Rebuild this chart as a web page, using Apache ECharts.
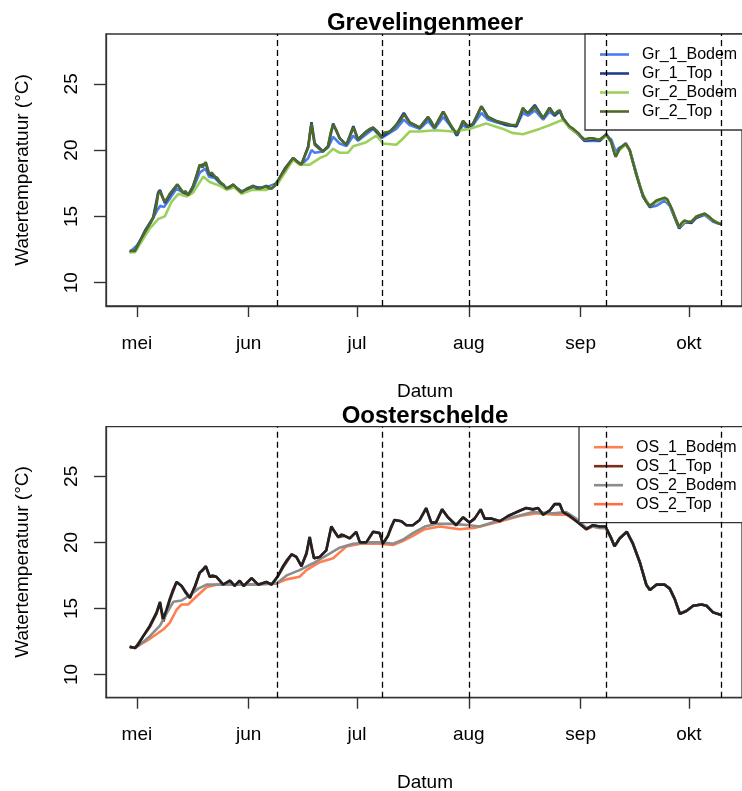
<!DOCTYPE html>
<html><head><meta charset="utf-8">
<script src="https://cdn.jsdelivr.net/npm/echarts@6/dist/echarts.min.js"></script>
<style>html,body{margin:0;padding:0;background:#fff}#c{width:742px;height:791px}</style>
</head><body><div id="c"></div>
<script>
// Day offsets are relative to 1 May; values in °C
const monthTickDays = [0, 31, 61, 92, 123, 153];
const monthLabels = ['mei', 'jun', 'jul', 'aug', 'sep', 'okt'];
const yTicks = [10, 15, 20, 25];
const eventDays = [39, 68, 92, 130, 162];
const grNames = ['Gr_1_Bodem', 'Gr_1_Top', 'Gr_2_Bodem', 'Gr_2_Top'];
const osNames = ['OS_1_Bodem', 'OS_1_Top', 'OS_2_Bodem', 'OS_2_Top'];

const gr1Bodem = [[-2,12.3],[0,12.8],[2,13.6],[4,14.6],[5.5,15.4],[6.5,15.8],[7.5,15.7],[9,16.3],[11,17.1],[12.8,16.8],[14.2,16.6],[15.6,17.1],[17.4,18.3],[19,18.6],[20,18.0],[21.6,17.9],[23,17.5],[24.8,17.1],[26.7,17.3],[29,16.9],[32.2,17.2],[35.9,17.2],[38.9,17.5],[41,18.4],[43.3,19.3],[45.6,18.9],[47.5,19.4],[48.4,20.0],[49.3,19.8],[51.6,19.9],[53,20.2],[54.4,21.0],[56.2,20.5],[58.1,20.3],[60,21.1],[61.3,20.7],[63.6,21.2],[65.5,21.6],[67.8,20.9],[70.1,21.3],[71.9,21.6],[74,22.3],[75.6,21.9],[78.4,21.6],[80.7,22.2],[82.5,21.6],[84.9,22.5],[86.7,21.9],[88.7,21.1],[90.4,21.9],[91.8,21.6],[93.2,21.9],[95.5,22.8],[97.3,22.3],[99.6,22.1],[102.4,21.9],[105.2,21.8],[107,22.8],[108.4,22.6],[110.3,23.0],[112.6,22.3],[114.4,22.9],[115.8,22.6],[117.2,22.9],[118.1,22.4],[119.9,21.7],[122.3,21.2],[124.1,20.7],[126.4,20.7],[128.3,20.7],[130.1,21.1],[131.5,20.8],[132.7,19.9],[133.8,20.2],[135.5,20.4],[136.6,20.0],[138.5,18.2],[140.3,16.5],[142.2,15.7],[144,15.8],[146.3,16.2],[147.7,15.8],[149.1,14.9],[150.3,14.1],[151.8,14.5],[153.7,14.6],[155.1,14.9],[157.4,15.1],[159.7,14.6],[162,14.4]];

const gr1Top = [[-2,12.3],[-0.5,12.4],[2.2,13.9],[4.5,14.9],[5.9,16.8],[6.4,17.0],[7.75,16.0],[9.1,16.6],[11.2,17.4],[12.8,16.8],[14.2,16.6],[15.6,17.3],[17.4,18.8],[19.1,19.0],[20,18.2],[21.6,18.0],[23,17.6],[24.8,17.1],[26.7,17.4],[29,16.8],[32.2,17.3],[34.1,17.1],[35.9,17.3],[37.3,17.1],[38.9,17.6],[41,18.6],[43.3,19.4],[45.6,18.9],[47.5,20.3],[48.4,22.1],[49.3,20.5],[51.6,19.9],[53,20.3],[54.4,22.0],[56.2,20.9],[58.1,20.4],[60,21.8],[61.3,20.8],[63.6,21.4],[65.5,21.7],[67.8,21.0],[70.1,21.4],[71.9,21.9],[74,22.8],[75.6,22.1],[78.4,21.7],[80.7,22.5],[82.5,21.7],[84.9,22.9],[86.7,22.0],[88.7,21.1],[90.4,22.2],[91.8,21.7],[93.2,22.0],[95.5,23.3],[97.3,22.5],[99.6,22.2],[102.4,21.9],[105.2,21.8],[107,23.1],[108.4,22.8],[110.3,23.4],[112.6,22.4],[114.4,23.2],[115.8,22.6],[117.2,23.0],[118.1,22.4],[119.9,21.7],[122.3,21.2],[124.1,20.7],[126.4,20.8],[128.3,20.7],[130.1,21.2],[131.5,20.6],[132.7,19.5],[133.8,20.1],[135.5,20.5],[136.6,20.0],[138.5,18.1],[140.3,16.5],[142.2,15.7],[144,16.1],[146.3,16.4],[147.7,15.9],[149.1,14.9],[150.3,14.1],[151.8,14.6],[153.7,14.5],[155.1,14.9],[157.4,15.2],[159.7,14.7],[162,14.4]];

const gr2Bodem = [[-2,12.3],[-0.5,12.3],[1.5,13.2],[3.6,14.1],[5.9,14.8],[7.75,15.0],[9.6,16.1],[11.5,16.7],[13.8,16.5],[15.6,16.8],[17,17.4],[18.4,18.0],[20.2,17.6],[23,17.3],[25,17.0],[27,17.2],[29,16.7],[32,17.0],[35.9,17.0],[38.9,17.4],[41.5,18.5],[43.3,19.3],[45.1,18.9],[47.9,18.9],[50.7,19.4],[52.5,19.6],[54.4,20.1],[56.2,19.8],[58.5,19.8],[60,20.3],[63.6,20.6],[66.4,21.1],[68.2,20.5],[71.9,20.4],[73.5,20.8],[75.6,21.4],[78.4,21.4],[82.9,21.5],[87.6,21.4],[92.2,21.6],[96.8,22.0],[101.5,21.6],[104,21.3],[107,21.2],[111.6,21.6],[114.5,21.9],[117.2,22.2],[118.1,22.3],[119.9,21.7],[122.3,21.2],[124.1,20.8],[126.4,20.9],[128.3,20.8],[130.1,21.1],[131.5,20.6],[132.7,19.6],[133.8,20.0],[135.5,20.4],[136.6,20.0],[138.5,18.1],[140.3,16.6],[142.2,15.8],[144,16.1],[146.3,16.4],[147.7,15.9],[149.1,15.0],[150.3,14.2],[151.8,14.6],[153.7,14.6],[155.1,15.0],[157.4,15.2],[159.7,14.7],[162,14.4]];

const gr2Top = [[-2,12.4],[-1.5,12.3],[-0.5,12.4],[1,13.2],[2.2,13.8],[3.5,14.4],[4.5,14.9],[5.3,15.6],[5.9,16.7],[6.4,16.9],[7,16.5],[7.75,16.1],[8.5,16.4],[9.1,16.7],[10,17.0],[11.2,17.4],[12,17.1],[12.8,16.8],[13.5,16.9],[14.2,16.6],[15,16.9],[15.6,17.3],[16.5,18.0],[17.4,18.9],[18.2,18.7],[19.1,19.1],[20,18.2],[20.8,18.3],[21.6,18.0],[22.3,17.9],[23,17.6],[24,17.4],[24.8,17.1],[25.8,17.2],[26.7,17.4],[27.8,17.1],[29,16.8],[30.5,17.1],[32.2,17.3],[33.2,17.1],[34.1,17.1],[35,17.2],[35.9,17.3],[36.6,17.1],[37.3,17.1],[38.2,17.3],[38.9,17.6],[40,18.1],[41,18.5],[42.2,19.0],[43.3,19.4],[44.5,19.1],[45.6,18.9],[46.6,19.6],[47.5,20.2],[48.1,21.5],[48.4,22.0],[48.8,21.2],[49.3,20.4],[50.5,20.1],[51.6,19.9],[52.3,20.1],[53,20.3],[53.7,21.3],[54.4,21.9],[55.3,21.5],[56.2,20.9],[57.2,20.6],[58.1,20.4],[59,21.0],[60,21.7],[60.6,21.3],[61.3,20.8],[62.5,21.1],[63.6,21.4],[64.5,21.6],[65.5,21.7],[66.7,21.4],[67.8,21.0],[68.5,21.3],[70.1,21.4],[71,21.6],[71.9,21.9],[73,22.2],[74,22.7],[74.8,22.4],[75.6,22.1],[77,21.9],[78.4,21.7],[80.7,22.5],[81.5,22.2],[82.5,21.7],[83.7,22.3],[84.9,22.9],[85.8,22.5],[86.7,22.0],[87.7,21.6],[88.7,21.2],[89.6,21.7],[90.4,22.2],[91.1,22.0],[91.8,21.8],[93.2,22.0],[94.3,22.6],[95.5,23.3],[96.4,22.9],[97.3,22.5],[98.5,22.3],[99.6,22.2],[101,22.1],[102.4,22.0],[103.8,21.9],[105.2,21.9],[106.2,22.6],[107,23.2],[107.7,22.9],[108.4,22.8],[109.4,23.0],[110.3,23.3],[111.4,22.9],[112.6,22.4],[113.5,22.8],[114.4,23.2],[115.1,22.9],[115.8,22.7],[116.5,22.9],[117.2,23.0],[118.1,22.4],[119.9,21.8],[121,21.6],[122.3,21.3],[123.2,21.0],[124.1,20.8],[125.3,20.9],[126.4,20.9],[127.4,20.8],[128.3,20.8],[129.3,21.0],[130.1,21.2],[131.5,20.6],[132.2,19.9],[132.7,19.5],[133.8,20.1],[134.6,20.3],[135.5,20.5],[136.6,20.0],[137.5,19.1],[138.5,18.1],[139.4,17.3],[140.3,16.6],[141.2,16.1],[142.2,15.8],[143.1,16.0],[144,16.2],[145,16.3],[146.3,16.4],[147,16.3],[147.7,15.9],[148.4,15.5],[149.1,15.0],[150.3,14.2],[151,14.5],[151.8,14.7],[152.7,14.6],[153.7,14.6],[154.4,14.8],[155.1,15.0],[156.2,15.1],[157.4,15.2],[158.5,15.0],[159.7,14.7],[160.8,14.5],[162,14.4]];

const os1Bodem = [[-2,12.0],[0,12.1],[3.6,12.7],[7.3,13.4],[9.1,13.9],[11,14.9],[12.4,15.3],[14.2,15.3],[16.5,15.9],[19.3,16.6],[22,16.8],[30,16.8],[38.8,16.9],[41.5,17.2],[45.1,17.4],[47,17.9],[50.7,18.5],[54.4,18.8],[58.1,19.7],[62,19.9],[67,19.9],[71,19.8],[73.7,20.1],[76.5,20.5],[79.8,21.0],[84,21.2],[89.4,21.0],[93.5,21.1],[99.6,21.5],[106.1,22.0],[111,22.2],[116.2,22.1],[119,22.1],[121.8,21.6],[124.6,21.0],[126.4,21.2],[128.3,21.1],[129.9,21.1],[131.5,20.3],[132.4,19.7],[133.8,20.3],[135.8,20.8],[137.5,19.9],[139.4,18.5],[141.2,16.8],[142.2,16.4],[144,16.8],[146.3,16.8],[147.7,16.5],[149.1,15.7],[150.5,14.6],[152.3,14.8],[154.2,15.2],[156.5,15.3],[157.9,15.2],[159.7,14.7],[162,14.5]];

const os1Top = [[-2,12.1],[-0.5,12.0],[1.75,12.9],[3.6,13.6],[5.45,14.6],[6.4,15.4],[7.3,14.0],[8.2,14.7],[9.1,15.6],[11,17.0],[12.4,16.7],[14.7,15.8],[16.1,16.6],[17.4,17.7],[19.1,18.2],[20.2,17.4],[22,17.4],[23.9,16.8],[25.8,17.1],[27.1,16.7],[28.5,17.1],[29.6,16.7],[31.8,17.3],[33.6,16.8],[35.9,17.0],[37.3,16.8],[39.2,17.5],[40.5,18.1],[42.9,19.1],[44.2,18.9],[45.6,18.2],[47,19.1],[47.9,20.4],[49.1,18.8],[50.7,18.9],[52.5,19.4],[53.9,21.2],[55.8,20.4],[57.6,20.5],[59,20.3],[60.8,20.8],[61.8,20.0],[63.6,20.0],[65.5,20.8],[67.3,20.7],[68.2,19.9],[69.6,20.5],[71.4,21.7],[73.3,21.6],[74.7,21.3],[76.5,21.3],[78.4,21.7],[80.2,22.6],[81.6,21.5],[82.9,21.5],[84.6,22.5],[86.2,21.9],[88.5,21.3],[90.4,21.9],[92.2,21.5],[93.6,21.8],[95.3,22.5],[96.4,21.8],[98.2,21.8],[100.6,21.6],[102.9,22.0],[106.1,22.4],[107.9,22.6],[109.8,22.5],[111.2,22.6],[112.6,22.1],[114.4,22.4],[115.8,22.9],[117.2,22.9],[118.1,22.3],[120,22.0],[122.3,21.5],[124.6,21.0],[126.4,21.3],[128.3,21.2],[129.9,21.2],[131.5,20.3],[132.4,19.7],[133.8,20.3],[135.8,20.8],[137.5,19.9],[139.4,18.5],[141.2,16.8],[142.2,16.4],[144,16.8],[146.3,16.8],[147.7,16.5],[149.1,15.7],[150.5,14.6],[152.3,14.8],[154.2,15.2],[156.5,15.3],[157.9,15.2],[159.7,14.7],[162,14.5]];

const os2Bodem = [[-2,12.1],[-0.5,12.0],[1.5,12.4],[3.6,12.9],[6.4,13.7],[8.2,14.6],[10.1,15.5],[12.4,15.6],[14.7,16.0],[17,16.5],[19.3,16.8],[22,16.8],[27,16.8],[32,16.8],[38.8,16.9],[41.5,17.5],[45.1,17.9],[48.7,18.4],[52.5,19.0],[56.2,19.6],[59.9,19.9],[64.5,20.0],[67.8,20.0],[71,19.9],[73.7,20.2],[76.5,20.7],[79.8,21.2],[82.9,21.4],[87.6,21.4],[92.2,21.3],[95,21.2],[99.6,21.6],[104.2,21.9],[109.8,22.3],[115.3,22.2],[119,22.3],[121.8,21.8],[124.6,21.1],[126.4,21.2],[128.3,21.1],[129.9,21.1],[131.5,20.3],[132.4,19.7],[133.8,20.3],[135.8,20.8],[137.5,19.9],[139.4,18.5],[141.2,16.8],[142.2,16.4],[144,16.8],[146.3,16.8],[147.7,16.5],[149.1,15.7],[150.5,14.6],[152.3,14.8],[154.2,15.2],[156.5,15.3],[157.9,15.2],[159.7,14.7],[162,14.5]];

const os2Top = [[-2,12.1],[-0.5,12.0],[0.5,12.3],[1.75,12.9],[3.6,13.7],[5.45,14.7],[6.4,15.5],[7.3,14.2],[8.2,14.9],[9.1,15.7],[10,16.4],[11,17.0],[12.4,16.7],[13.5,16.2],[14.7,15.8],[16.1,16.7],[17.4,17.7],[18.3,17.9],[19.1,18.2],[20.2,17.4],[21,17.5],[22,17.4],[23,17.1],[23.9,16.8],[25.8,17.1],[27.1,16.7],[28.5,17.1],[29.6,16.7],[30.7,17.0],[31.8,17.3],[33.6,16.8],[35.9,17.0],[37.3,16.8],[38.2,17.1],[39.2,17.5],[40.5,18.2],[41.7,18.7],[42.9,19.1],[44.2,18.9],[45.6,18.2],[47,19.2],[47.9,20.4],[48.5,19.5],[49.1,18.8],[50.7,18.9],[52.5,19.4],[53.2,20.3],[53.9,21.2],[54.8,20.8],[55.8,20.4],[56.7,20.6],[57.6,20.5],[59,20.3],[60.8,20.8],[61.8,20.0],[63.6,20.0],[65.5,20.8],[67.3,20.7],[68.2,19.9],[69.6,20.5],[70.5,21.2],[71.4,21.7],[73.3,21.6],[74.7,21.3],[76.5,21.3],[78.4,21.7],[80.2,22.6],[81.6,21.5],[82.9,21.5],[84.6,22.5],[86.2,21.9],[88.5,21.3],[90.4,21.9],[92.2,21.5],[93.6,21.8],[95.3,22.5],[96.4,21.8],[98.2,21.8],[100.6,21.6],[102.9,22.0],[104.5,22.2],[106.1,22.4],[107.9,22.6],[109.8,22.5],[111.2,22.6],[112.6,22.1],[114.4,22.4],[115.8,22.9],[117.2,22.9],[118.1,22.3],[120,22.0],[122.3,21.5],[124.6,21.0],[126.4,21.3],[128.3,21.2],[129.9,21.2],[131.5,20.3],[132.4,19.7],[133.8,20.3],[135.8,20.8],[137.5,19.9],[139.4,18.5],[141.2,16.8],[142.2,16.4],[144,16.8],[146.3,16.8],[147.7,16.5],[149.1,15.7],[150.5,14.6],[152.3,14.8],[154.2,15.2],[156.5,15.3],[157.9,15.2],[159.7,14.7],[162,14.5]];

// ---------------------------------------------------------------
const FONT = '"Liberation Sans", Arial, Helvetica, sans-serif';
const monthLabel = v => {
  let best = 0, bd = Infinity;
  monthTickDays.forEach((t, i) => { const dd = Math.abs(t - v); if (dd < bd) { bd = dd; best = i; } });
  return monthLabels[best];
};

const grids = [
  { left: 106, top: 34, width: 636, height: 272 },
  { left: 106, top: 426.7, width: 636, height: 271 }
];
const axisLn = () => ({ show: true, onZero: false, lineStyle: { color: '#333', width: 1.3 } });

function xAx(i) {
  return {
    type: 'value', gridIndex: i, min: -8.56, max: 167.73, position: 'bottom',
    axisLine: axisLn(), splitLine: { show: false },
    axisTick: { show: true, inside: false, length: 11, lineStyle: { color: '#333', width: 1.4 }, customValues: monthTickDays },
    axisLabel: { customValues: monthTickDays, formatter: v => monthLabel(v), fontSize: 19, color: '#000', fontFamily: FONT, margin: 28 }
  };
}
function yAx(i) {
  return {
    type: 'value', gridIndex: i, min: 8.24, max: 28.76, position: 'left',
    axisLine: axisLn(), splitLine: { show: false },
    axisTick: { show: true, inside: false, length: 12, lineStyle: { color: '#333', width: 1.4 }, customValues: yTicks },
    axisLabel: { customValues: yTicks, rotate: 90, fontSize: 19, color: '#000', fontFamily: FONT, margin: 25 }
  };
}

const dashLines = eventDays.map(d => ({ xAxis: d }));
function ser(name, data, color, idx, withMark) {
  const s = {
    type: 'line', name, data, xAxisIndex: idx, yAxisIndex: idx,
    showSymbol: false, symbol: 'none', lineStyle: { color, width: 2.6 }, itemStyle: { color },
    silent: true
  };
  if (withMark) {
    s.markLine = { silent: true, symbol: ['none', 'none'], label: { show: false },
      lineStyle: { color: '#000', type: [6, 4], width: 1.3 }, data: dashLines };
  }
  return s;
}

const grColors = ['#4a7df2', '#1f3d8f', '#9dd05a', '#4e6a2b'];
const osColors = ['#ff7f50', '#7b2d1c', '#8c8c8c', '#222222'];
const osLegendColors = ['#ff7f50', '#7b2d1c', '#8c8c8c', '#ff6f45'];

function legend(top, left, names, colors) {
  return {
    orient: 'vertical', left, top, itemWidth: 29, itemHeight: 2.6, itemGap: 0,
    padding: [11, 10, 9, 15], backgroundColor: '#fff', borderColor: '#333', borderWidth: 1.3, borderRadius: 0,
    textStyle: { fontSize: 16, color: '#000', fontFamily: FONT, lineHeight: 19, padding: [0, 0, 0, 8] },
    selectedMode: false, icon: 'rect',
    data: names.map((n, i) => ({ name: n, icon: 'rect', itemStyle: { color: colors[i] } }))
  };
}

const option = {
  animation: false,
  grid: grids.map(g => Object.assign({ show: true, borderColor: '#333', borderWidth: 1.3, backgroundColor: 'transparent' }, g)),
  xAxis: [xAx(0), xAx(1)],
  yAxis: [yAx(0), yAx(1)],
  legend: [legend(34, 585, grNames, grColors), legend(426.7, 579, osNames, osLegendColors)],
  series: [
    ser(grNames[0], gr1Bodem, grColors[0], 0, true),
    ser(grNames[1], gr1Top, grColors[1], 0, false),
    ser(grNames[2], gr2Bodem, grColors[2], 0, false),
    ser(grNames[3], gr2Top, grColors[3], 0, false),
    ser(osNames[0], os1Bodem, osColors[0], 1, true),
    ser(osNames[1], os1Top, osColors[1], 1, false),
    ser(osNames[2], os2Bodem, osColors[2], 1, false),
    ser(osNames[3], os2Top, osColors[3], 1, false)
  ],
  graphic: [
    { type: 'text', x: 425, y: 23, style: { text: 'Grevelingenmeer', font: 'bold 24px ' + FONT, fill: '#000', align: 'center', verticalAlign: 'middle' } },
    { type: 'text', x: 425, y: 416, style: { text: 'Oosterschelde', font: 'bold 24px ' + FONT, fill: '#000', align: 'center', verticalAlign: 'middle' } },
    { type: 'text', x: 425, y: 392, style: { text: 'Datum', font: '19px ' + FONT, fill: '#000', align: 'center', verticalAlign: 'middle' } },
    { type: 'text', x: 425, y: 783, style: { text: 'Datum', font: '19px ' + FONT, fill: '#000', align: 'center', verticalAlign: 'middle' } },
    { type: 'text', x: 23, y: 170, rotation: Math.PI / 2, style: { text: 'Watertemperatuur (°C)', font: '19px ' + FONT, fill: '#000', align: 'center', verticalAlign: 'middle' } },
    { type: 'text', x: 23, y: 562, rotation: Math.PI / 2, style: { text: 'Watertemperatuur (°C)', font: '19px ' + FONT, fill: '#000', align: 'center', verticalAlign: 'middle' } }
  ]
};

const chart = echarts.init(document.getElementById('c'), null, { renderer: 'canvas' });
chart.setOption(option);
</script></body></html>
